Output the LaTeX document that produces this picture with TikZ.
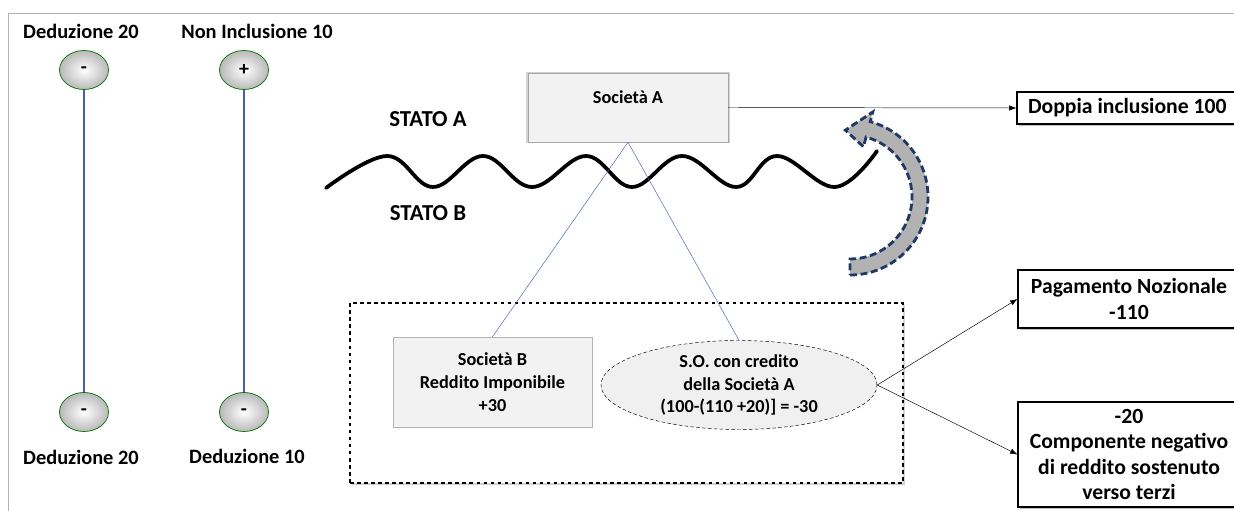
\documentclass[tikz,border=0pt]{standalone}
\usepackage{fontspec}
\setmainfont{Carlito}
\usepackage{xcolor}
\usetikzlibrary{arrows.meta, positioning, shapes.geometric, shadows}

\definecolor{lineblue}{RGB}{68,100,170}
\definecolor{navy}{RGB}{31,56,100}

\begin{document}
\begin{tikzpicture}[
x=0.03cm, y=-0.03cm,
lbl/.style={font=\fontsize{17.4}{20}\selectfont\bfseries, align=center},
txt/.style={font=\fontsize{15.6}{19.5}\selectfont\bfseries, align=center},
sign/.style={ellipse, draw=green!45!black, semithick, inner color=white, outer color=gray!55, minimum width=1.47cm, minimum height=1.17cm, font=\fontsize{17}{18}\selectfont\bfseries},
stem/.style={draw=lineblue, line width=1.3pt},
soc/.style={draw=gray!70, fill=gray!10, minimum width=6cm, minimum height=2.07cm, drop shadow={opacity=0.35, shadow xshift=0pt, shadow yshift=0pt, shadow scale=1.02}},
frame/.style={draw, dashed, line width=0.9pt, fill=white, minimum width=16.59cm, minimum height=5.4cm, drop shadow={opacity=0.35, shadow xshift=1.5pt, shadow yshift=-1.5pt}},
outbox/.style={draw, line width=0.9pt, fill=white, font=\fontsize{18.5}{21.5}\selectfont\bfseries, align=center, minimum width=6.66cm, drop shadow={opacity=0.5, shadow xshift=1.5pt, shadow yshift=-1.5pt}},
arr/.style={-{Latex[length=2.2mm, width=1.6mm]}, thin},
link/.style={draw=lineblue, thin}
]
\useasboundingbox (0,0) rectangle (1234,511);
\draw[gray!60, line width=0.8pt] (8,511) -- (8,13) -- (1234,13);

% scale on the left
\node[lbl] (d20t) at (81,31) {Deduzione 20};
\node[lbl] (ni10) at (257,31) {Non Inclusione 10};
\node[sign] (s1t) at (84,70) {-};
\node[sign] (s2t) at (244,70) {+};
\node[sign] (s1b) at (84,412) {-};
\node[sign] (s2b) at (244,412) {-};
\node[lbl] (d20b) at (81,457) {Deduzione 20};
\node[lbl] (d10b) at (247,456) {Deduzione 10};
\draw[stem] (s1t) -- (s1b);
\draw[stem] (s2t) -- (s2b);

% states
\node[lbl, font=\fontsize{19.5}{22}\selectfont\bfseries] (sta) at (428,119) {STATO A};
\node[lbl, font=\fontsize{19.5}{22}\selectfont\bfseries] (stb) at (428,213) {STATO B};
\node[soc, txt, text height=8pt, text depth=14pt] (sa) at (628,107.5) {Società A};

% curved arrow
\begin{scope}[shift={(850,197)}]
\filldraw[fill=gray!60, draw=navy, line width=2.4pt, dash pattern=on 6pt off 3pt]
  (90:78) arc[start angle=90, end angle=-75, radius=78] -- (-75:88) -- (-94:67)
  -- (-75:52) -- (-75:62) arc[start angle=-75, end angle=90, radius=62] -- cycle;
\end{scope}

% border
\draw[line width=3.2pt, line cap=round] plot[smooth, tension=0.65] coordinates {
  (326,188) (387,156) (433,187) (483,156) (532,187) (586,156) (632,187)
  (682,156) (736,187) (777,156) (835,187) (877,151)};

% group of Stato B
\node[frame] (grp) at (626.5,393) {};
\node[txt, draw=gray!60, fill=gray!10, minimum width=5.97cm, minimum height=2.7cm] (sb) at (492.5,382) {Società B\\Reddito Imponibile\\+30};
\node[txt, ellipse, draw, densely dashed, thin, fill=gray!12, minimum width=8.28cm, minimum height=2.67cm, inner sep=0pt] (so) at (739,385) {S.O. con credito\\della Società A\\(100-(110 +20)] = -30};
\draw[link] (sa.south) -- (sb.north);
\draw[link] (sa.south) -- (so.north);

% outcomes
\node[outbox, minimum height=0.96cm, inner xsep=0.33cm, text width=6.18cm, align=flush left, minimum width=6.84cm] (dop) at (1131,108) {Doppia inclusione 100};
\node[outbox, minimum height=1.74cm] (pag) at (1129,299) {Pagamento Nozionale\\-110};
\node[outbox, minimum height=3.15cm] (neg) at (1129,454.5) {-20\\Componente negativo\\di reddito sostenuto\\verso terzi};
\draw[arr] (sa.east) -- (dop.west);
\draw[arr] (so.east) -- (pag.west);
\draw[arr] (so.east) -- (neg.west);
\end{tikzpicture}
\end{document}
